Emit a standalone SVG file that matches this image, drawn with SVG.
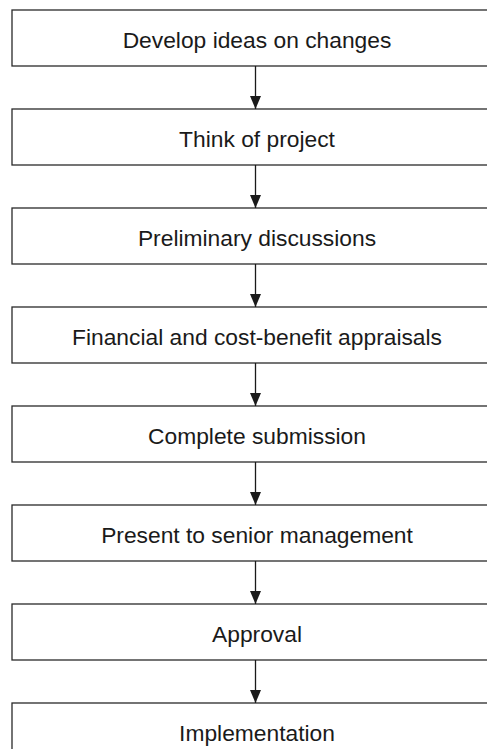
<svg xmlns="http://www.w3.org/2000/svg" width="487" height="749" viewBox="0 0 487 749">
<style>
.box{fill:#fff;stroke:#2a2a2a;stroke-width:1.3}
.lbl{font-family:"Liberation Sans",Arial,sans-serif;font-size:22.8px;fill:#1a1a1a;text-anchor:middle}
.conn{stroke:#1a1a1a;stroke-width:1.3;fill:none}
</style>
<defs>
<marker id="ah" markerWidth="13" markerHeight="11" refX="13" refY="5.5" orient="auto" markerUnits="userSpaceOnUse" viewBox="0 0 13 11">
<path d="M0,0 L13,5.5 L0,11 Z" fill="#1a1a1a"/>
</marker>
</defs>
<rect width="487" height="749" fill="#fff"/>
<g id="n1"><rect class="box" x="12" y="10" width="495" height="56"/><text class="lbl" x="257" y="47.5">Develop ideas on changes</text></g>
<g id="n2"><rect class="box" x="12" y="109" width="495" height="56"/><text class="lbl" x="257" y="146.5">Think of project</text></g>
<g id="n3"><rect class="box" x="12" y="208" width="495" height="56"/><text class="lbl" x="257" y="245.5">Preliminary discussions</text></g>
<g id="n4"><rect class="box" x="12" y="307" width="495" height="56"/><text class="lbl" x="257" y="344.5">Financial and cost-benefit appraisals</text></g>
<g id="n5"><rect class="box" x="12" y="406" width="495" height="56"/><text class="lbl" x="257" y="443.5">Complete submission</text></g>
<g id="n6"><rect class="box" x="12" y="505" width="495" height="56"/><text class="lbl" x="257" y="542.5">Present to senior management</text></g>
<g id="n7"><rect class="box" x="12" y="604" width="495" height="56"/><text class="lbl" x="257" y="641.5">Approval</text></g>
<g id="n8"><rect class="box" x="12" y="703" width="495" height="56"/><text class="lbl" x="257" y="740.5">Implementation</text></g>
<g id="connectors">
<path class="conn" d="M255.5,66 V109" marker-end="url(#ah)"/>
<path class="conn" d="M255.5,165 V208" marker-end="url(#ah)"/>
<path class="conn" d="M255.5,264 V307" marker-end="url(#ah)"/>
<path class="conn" d="M255.5,363 V406" marker-end="url(#ah)"/>
<path class="conn" d="M255.5,462 V505" marker-end="url(#ah)"/>
<path class="conn" d="M255.5,561 V604" marker-end="url(#ah)"/>
<path class="conn" d="M255.5,660 V703" marker-end="url(#ah)"/>
</g>
</svg>
